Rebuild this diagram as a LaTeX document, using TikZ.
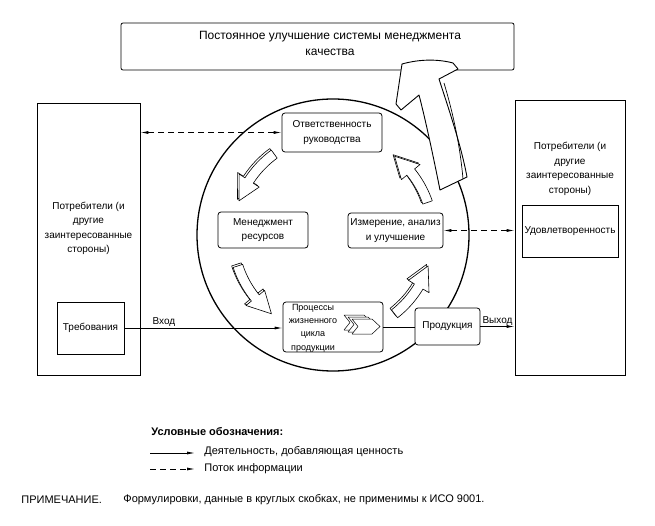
\documentclass[tikz,border=0pt]{standalone}
\usepackage{fontspec}
\setmainfont{Liberation Sans}
\usetikzlibrary{arrows.meta, calc}

\newcommand{\ringpath}[2]{(#1:105pt) arc[start angle=#1, end angle=#2, radius=105pt] -- (#2:112pt) -- (\tip:100pt) -- (#2:88pt) -- (#2:95pt) arc[start angle=#2, end angle=#1, radius=95pt] -- cycle}

\begin{document}
\begin{tikzpicture}[x=1pt, y=-1pt, line width=0.8pt,
        txt/.style={font=\fontsize{10}{14.5}\selectfont, align=center, inner sep=1pt},
        big/.style={font=\fontsize{11}{14}\selectfont},
        rbox/.style={draw, fill=white, rounded corners=3pt, txt},
        sbox/.style={draw, fill=white, txt},
        flow/.style={-{Latex[length=8pt,width=3pt]}},
        info/.style={dash pattern=on 6pt off 4pt, {Latex[length=8pt,width=3pt]}-{Latex[length=8pt,width=3pt]}},
        face/.style={draw, fill=white, line width=0.6pt, line join=round}]
        \useasboundingbox (0,0) rectangle (655,526);

        \node (top) at (317.5,46.5) [draw, rounded corners=2pt, minimum width=393pt, minimum height=47pt] {};
        \node (toptxt) at (330,43) [txt, font=\fontsize{12}{16}\selectfont] {Постоянное улучшение системы менеджмента\\качества};

        \coordinate (ctr) at (333,235);
        \draw[line width=1.3pt] (ctr) circle[radius=136pt];

        \draw[face, line width=0.9pt] (440,190) .. controls (432,150) and (425,118) .. (419,95) -- (401,110) -- (396,104) -- (402,64) .. controls (420,59) and (438,59) .. (453,63) -- (458,69) -- (439,79) .. controls (449,110) and (461,145) .. (467,177) -- cycle;
        \draw[line width=0.7pt] (444,83) .. controls (453,113) and (460,145) .. (463,179);

        \begin{scope}[shift={(ctr)}]
            \foreach \a/\tip in {126/160, 198/232, 308/342, 19/52} {
                \pgfmathsetmacro{\hb}{\tip-13}
                \draw[face, xshift=-1.5pt, yshift=1.5pt] \ringpath{\a}{\hb};
                \draw[face] \ringpath{\a}{\hb};
            }
        \end{scope}

        \node (cust) at (88.5,239) [sbox, minimum width=103pt, minimum height=272pt] {};
        \node (custtxt) at (88.5,228.5) [txt] {Потребители (и\\другие\\заинтересованные\\стороны)};
        \node (req) at (90.5,328) [sbox, minimum width=67pt, minimum height=52pt] {Требования};

        \node (cons) at (570,237.5) [sbox, minimum width=110pt, minimum height=275pt] {};
        \node (constxt) at (570,169) [txt] {Потребители (и\\другие\\заинтересованные\\стороны)};
        \node (sat) at (570,231) [sbox, minimum width=96pt, minimum height=52pt] {Удовлетворенность};

        \node (resp) at (332,132.5) [rbox, minimum width=100pt, minimum height=39pt] {Ответственность\\руководства};
        \node (res) at (263,230) [rbox, minimum width=90pt, minimum height=36pt] {Менеджмент\\ресурсов};
        \node (meas) at (395.5,230.5) [rbox, minimum width=95pt, minimum height=35pt] {Измерение, анализ\\и улучшение};
        \node (proc) at (333,327) [rbox, minimum width=100pt, minimum height=50pt] {};
        \node (proctxt) at (313,328) [txt, font=\fontsize{9}{13.3}\selectfont] {Процессы\\жизненного\\цикла\\продукции};
        \node (prod) at (447.5,326.5) [rbox, minimum width=65pt, minimum height=37pt] {Продукция};

        \foreach \d in {8,4,0}
            \draw[face, line width=0.5pt, xshift=-\d pt, yshift=0.5*\d pt] (352,319) -- (372,319) -- (380,326.5) -- (372,334) -- (352,334) -- (358,326.5) -- cycle;

        \draw[info] (resp.west) -- (resp.west -| cust.east);
        \draw[info] (meas.east) -- (meas.east -| cons.west);
        \draw[flow] (req.east) -- (req.east -| proc.west) node[pos=0.25, above, txt] {Вход};
        \draw (proc.east) -- (proc.east -| prod.west);
        \draw[flow] (prod.east) -- (prod.east -| cons.west) node[midway, above, txt] {Выход};

        \node (lgd) at (150,432) [anchor=west, txt, font=\fontsize{11}{13}\selectfont\bfseries] {Условные обозначения:};
        \coordinate (l1a) at (150,453);
        \coordinate (l1b) at (195,453);
        \coordinate (l2a) at (150,469);
        \coordinate (l2b) at (195,469);
        \draw[flow] (l1a) -- (l1b);
        \draw[flow, dash pattern=on 6pt off 4pt] (l2a) -- (l2b);
        \node (l1) at (203,452) [anchor=west, txt, big] {Деятельность, добавляющая ценность};
        \node (l2) at (203,469) [anchor=west, txt, big] {Поток информации};

        \node (note) at (20,500) [anchor=west, txt, big] {ПРИМЕЧАНИЕ.};
        \node (notetxt) at (122,500) [anchor=west, txt, big] {Формулировки, данные в круглых скобках, не применимы к ИСО 9001.};
    \end{tikzpicture}
\end{document}
